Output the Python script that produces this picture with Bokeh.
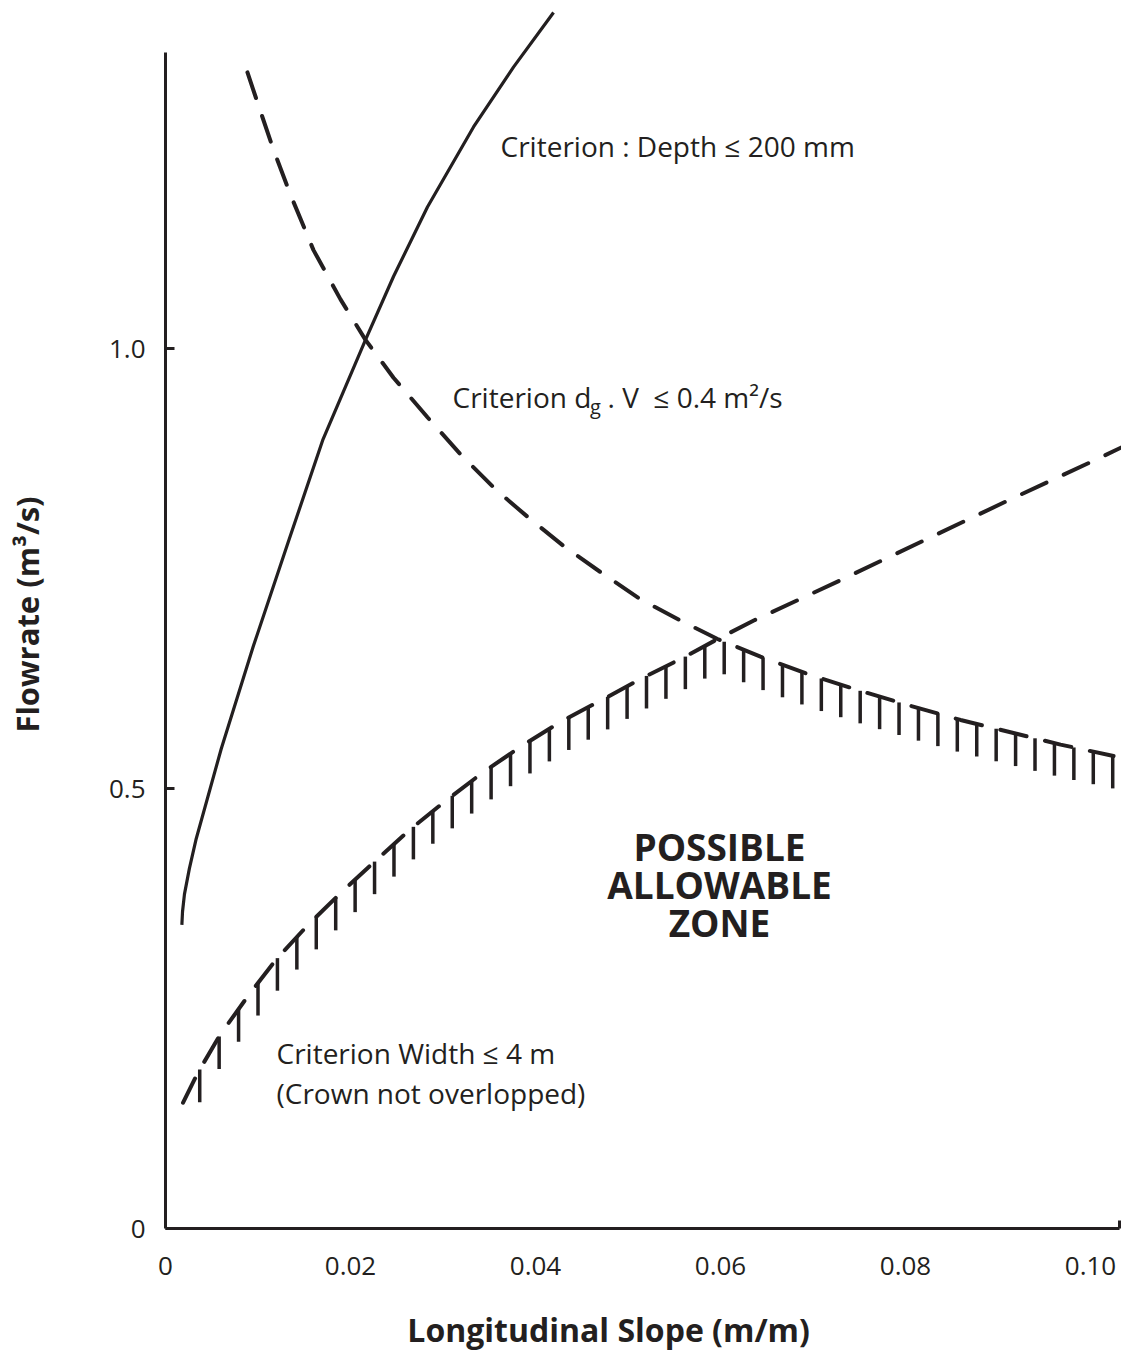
import numpy as np
from bokeh.plotting import figure
from bokeh.models import Range1d, FixedTicker, Label, LinearAxis
from bokeh.embed import file_html
from bokeh.resources import INLINE

# ---------------- data ----------------
x_ticks = [0, 0.02, 0.04, 0.06, 0.08, 0.10]
x_tick_labels = ["0", "0.02", "0.04", "0.06", "0.08", "0.10"]
y_ticks = [0, 0.5, 1.0]
y_tick_labels = ["0", "0.5", "1.0"]

x_title = "Longitudinal Slope (m/m)"
y_title = "Flowrate (m\u00b3/s)"

# Criterion: Depth <= 200 mm (solid)
depth_slope = [0.00177, 0.00184, 0.00205, 0.00258, 0.00332, 0.00602, 0.00950,
               0.01336, 0.01703, 0.02162, 0.02465, 0.02832, 0.03330, 0.03762,
               0.04195]
depth_flow = [0.345, 0.360, 0.380, 0.409, 0.443, 0.545, 0.662,
              0.783, 0.897, 1.010, 1.082, 1.161, 1.252, 1.320,
              1.382]

# Criterion dg.V <= 0.4 m2/s (dashed, descending)
dgv_slope = [0.00886, 0.01016, 0.01168, 0.01351, 0.01600, 0.01892, 0.02162,
             0.02465, 0.02832, 0.03189, 0.03568, 0.03946, 0.04324, 0.04703,
             0.05135, 0.05568, 0.05968, 0.06432, 0.06973, 0.07514, 0.08054,
             0.08595, 0.09135, 0.09676, 0.10249]
dgv_flow = [1.314, 1.273, 1.226, 1.175, 1.112, 1.056, 1.010,
            0.967, 0.922, 0.880, 0.840, 0.806, 0.774, 0.746,
            0.715, 0.691, 0.670, 0.650, 0.629, 0.611, 0.594,
            0.578, 0.564, 0.550, 0.537]

# Criterion Width <= 4 m (dashed, ascending)
width_slope = [0.0019, 0.0035, 0.0059, 0.0089, 0.0119, 0.0154, 0.0189, 0.0226,
               0.0265, 0.0304, 0.0344, 0.0386, 0.0429, 0.0474, 0.0518, 0.0562,
               0.0597, 0.0636, 0.0728, 0.0818, 0.0910, 0.1002, 0.1034]
width_flow = [0.143, 0.177, 0.220, 0.264, 0.305, 0.345, 0.381, 0.417,
              0.454, 0.487, 0.519, 0.549, 0.577, 0.602, 0.627, 0.650,
              0.670, 0.691, 0.736, 0.781, 0.827, 0.872, 0.888]

peak_slope = 0.0597  # where the two dashed criteria meet

zone_lines = ["POSSIBLE", "ALLOWABLE", "ZONE"]

# ---------------- styling ----------------
INK = "#231f20"
FONT = "Open Sans"

X_END = 0.10335
Y_END = 1.3957

p = figure(width=1121, height=1353,
           x_range=Range1d(0, X_END), y_range=Range1d(0, Y_END),
           output_backend="svg", toolbar_location=None,
           min_border_left=165, min_border_right=0,
           min_border_top=0, min_border_bottom=122)
p.outline_line_color = None
p.grid.visible = False
p.background_fill_color = "white"
p.border_fill_color = "white"

xa = p.xaxis[0]
xa.ticker = FixedTicker(ticks=x_ticks, minor_ticks=[0.1031])
xa.major_label_overrides = {t: l for t, l in zip(x_ticks, x_tick_labels)}
xa.bounds = (0, 0.10314)
xa.axis_line_color = INK
xa.axis_line_width = 3
xa.major_tick_line_color = None
xa.major_tick_in = 0
xa.major_tick_out = 0
xa.minor_tick_line_color = INK
xa.minor_tick_line_width = 3
xa.minor_tick_in = 8
xa.minor_tick_out = 0
xa.major_label_text_font = FONT
xa.major_label_text_font_size = "26px"
xa.major_label_text_color = INK
xa.major_label_standoff = 28

ya = p.yaxis[0]
ya.ticker = FixedTicker(ticks=y_ticks)
ya.major_label_overrides = {t: l for t, l in zip(y_ticks, y_tick_labels)}
ya.bounds = (0, 1.337)
ya.axis_line_color = INK
ya.axis_line_width = 3
ya.major_tick_line_color = INK
ya.major_tick_line_width = 3
ya.major_tick_in = 9
ya.major_tick_out = 0
ya.minor_tick_line_color = None
ya.major_label_text_font = FONT
ya.major_label_text_font_size = "26px"
ya.major_label_text_color = INK
ya.major_label_standoff = 20
ya.axis_label = y_title
ya.axis_label_text_font = FONT
ya.axis_label_text_font_size = "31px"
ya.axis_label_text_font_style = "bold"
ya.axis_label_text_color = INK
ya.axis_label_standoff = 58

# x-axis title as a single-tick axis so it sits where the reference has it
xt = LinearAxis(ticker=FixedTicker(ticks=[0.0479]),
                major_label_overrides={0.0479: x_title},
                axis_line_color=None, major_tick_line_color=None,
                minor_tick_line_color=None,
                major_tick_in=0, major_tick_out=0,
                major_label_text_font=FONT,
                major_label_text_font_size="32px",
                major_label_text_font_style="bold",
                major_label_text_color=INK,
                major_label_standoff=30)
p.add_layout(xt, "below")

# curves
p.line(depth_slope, depth_flow, line_width=3.2, line_color=INK, line_join="round")
p.line(dgv_slope, dgv_flow, line_width=4, line_color=INK,
       line_dash="27 19", line_cap="round")
p.line(width_slope, width_flow, line_width=4, line_color=INK,
       line_dash="27 19", line_cap="round")

# hatch ticks hanging below the boundary of the allowable zone
hx = np.arange(0.0037, 0.1026, 0.0021)
top = np.where(hx <= peak_slope,
               np.interp(hx, width_slope, width_flow),
               np.interp(hx, dgv_slope, dgv_flow))
p.segment(x0=hx, y0=top, x1=hx, y1=top - 0.037, line_width=3.5, line_color=INK)


# text annotations
def lab(x, y, text, size="28px", style="normal", align="left"):
    p.add_layout(Label(x=x, y=y, text=text, text_font=FONT, text_font_size=size,
                       text_font_style=style, text_color=INK, text_align=align,
                       text_baseline="alphabetic"))


lab(0.03622, 1.2302, "Criterion : Depth \u2264 200 mm")
lab(0.03103, 0.9456, "Criterion d")
lab(0.04590, 0.9342, "g", size="20px")
lab(0.04700, 0.9456, "\u00a0.\u00a0V\u00a0\u00a0\u2264 0.4 m\u00b2/s")
lab(0.0120, 0.1995, "Criterion Width \u2264 4 m")
lab(0.0120, 0.1542, "(Crown not overlopped)")

zone_y = [0.4342, 0.3912, 0.3481]
for t, yy in zip(zone_lines, zone_y):
    lab(0.05989, yy, t, size="37px", style="bold", align="center")

open("out.html", "w").write(file_html(p, INLINE))
